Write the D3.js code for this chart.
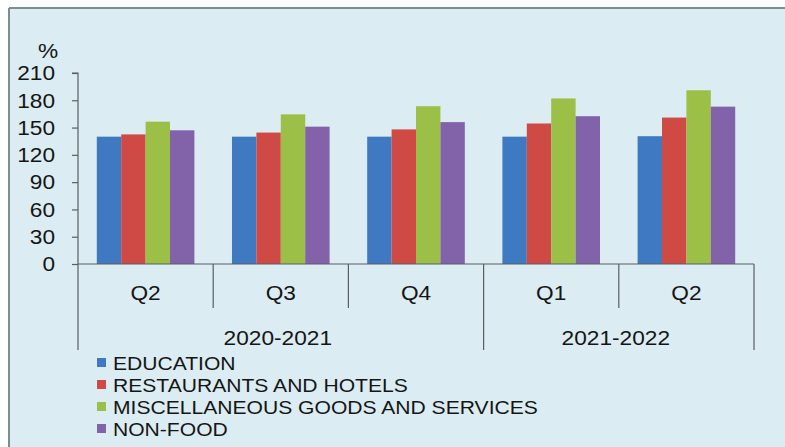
<!DOCTYPE html>
<html>
<head>
<meta charset="utf-8">
<script src="https://cdn.jsdelivr.net/npm/d3@7/dist/d3.min.js"></script>
<style>
  html, body { margin: 0; padding: 0; background: #ffffff; }
  svg { display: block; }
  text { font-family: "Liberation Sans", Arial, sans-serif; fill: #151515; }
</style>
</head>
<body>
<svg id="chart" width="785" height="447"></svg>
<script>
// Price index by quarter, %
const quarters = ["Q2", "Q3", "Q4", "Q1", "Q2"];
const fiscalYears = [
  { label: "2020-2021", from: 0, to: 3 },
  { label: "2021-2022", from: 3, to: 5 }
];
const seriesNames = ["EDUCATION", "RESTAURANTS AND HOTELS", "MISCELLANEOUS GOODS AND SERVICES", "NON-FOOD"];
const education   = [140.0, 140.0, 140.0, 140.0, 140.5];
const restaurants = [142.5, 144.5, 148.0, 154.5, 161.0];
const misc        = [156.5, 164.5, 173.5, 182.0, 191.0];
const nonFood     = [147.0, 151.0, 156.0, 162.5, 173.0];
const yTicks = [0, 30, 60, 90, 120, 150, 180, 210];

const seriesValues = [education, restaurants, misc, nonFood];
const colors = ["#3f79c1", "#cf4a45", "#9cbf48", "#8263aa"];

const svg = d3.select("#chart");
const W = 785, H = 447;
const plotLeft = 78, plotRight = 754, plotTop = 73, plotBottom = 264;
const stretch = 1.08;

// panel background and frame
svg.append("rect").attr("x", 9).attr("y", 8).attr("width", W - 9).attr("height", H - 8)
  .attr("fill", "#dbecf2");
svg.append("line").attr("x1", 9).attr("x2", W).attr("y1", 8).attr("y2", 8)
  .attr("stroke", "#7d8c92").attr("stroke-width", 2);
svg.append("line").attr("x1", 9).attr("x2", 9).attr("y1", 8).attr("y2", H)
  .attr("stroke", "#7d8c92").attr("stroke-width", 2);

const idx = d3.range(quarters.length);
const x0 = d3.scaleBand().domain(idx).range([plotLeft, plotRight]).paddingInner(0.278).paddingOuter(0.139);
const x1 = d3.scaleBand().domain(d3.range(seriesNames.length)).range([0, x0.bandwidth()]);
const y = d3.scaleLinear().domain([0, 210]).range([plotBottom, plotTop]);

// bars
const groups = svg.append("g").selectAll("g").data(idx).join("g")
  .attr("transform", i => `translate(${x0(i)},0)`);
groups.selectAll("rect")
  .data(i => seriesValues.map((vals, s) => ({ s, v: vals[i] })))
  .join("rect")
  .attr("x", d => x1(d.s))
  .attr("width", x1.bandwidth())
  .attr("y", d => y(d.v))
  .attr("height", d => y(0) - y(d.v))
  .attr("fill", d => colors[d.s]);

// y axis
const axisStroke = "#5a5f62";
const yAxis = svg.append("g").attr("transform", `translate(${plotLeft},0)`)
  .call(d3.axisLeft(y).tickValues(yTicks).tickSize(6).tickFormat(""));
yAxis.selectAll("path, line").attr("stroke", axisStroke).attr("stroke-width", 1.2);
yAxis.select(".domain").attr("d", `M-6,${y(210)}H0V${y(0)}`);

svg.append("g").selectAll("text").data(yTicks).join("text")
  .attr("transform", d => `translate(55,${y(d)}) scale(${stretch},1)`)
  .attr("dy", "0.35em")
  .attr("text-anchor", "end")
  .attr("font-size", 21)
  .text(d => d);

svg.append("text")
  .attr("transform", `translate(48,58) scale(${stretch},1)`)
  .attr("text-anchor", "middle")
  .attr("font-size", 21)
  .text("%");

// x axis: baseline, quarter and year separators
svg.append("line").attr("x1", plotLeft).attr("x2", plotRight).attr("y1", plotBottom).attr("y2", plotBottom)
  .attr("stroke", axisStroke).attr("stroke-width", 1.2);

const step = x0.step();
const edge = i => plotLeft + i * step;
const yearEdges = new Set([0, ...fiscalYears.map(f => f.to)]);
svg.append("g").selectAll("line").data(d3.range(quarters.length + 1)).join("line")
  .attr("x1", edge).attr("x2", edge)
  .attr("y1", plotBottom)
  .attr("y2", i => yearEdges.has(i) ? 350 : 308)
  .attr("stroke", axisStroke).attr("stroke-width", 1.2);

svg.append("g").selectAll("text").data(idx).join("text")
  .attr("transform", i => `translate(${x0(i) + x0.bandwidth() / 2},300) scale(${stretch},1)`)
  .attr("text-anchor", "middle")
  .attr("font-size", 21)
  .text(i => quarters[i]);

svg.append("g").selectAll("text").data(fiscalYears).join("text")
  .attr("transform", f => `translate(${(edge(f.from) + edge(f.to)) / 2 - 3},345) scale(${stretch},1)`)
  .attr("text-anchor", "middle")
  .attr("font-size", 21)
  .text(f => f.label);

// legend
const legend = svg.append("g").selectAll("g").data(seriesNames).join("g")
  .attr("transform", (d, i) => `translate(97,${370 + i * 22})`);
legend.append("rect")
  .attr("x", 0).attr("y", -12).attr("width", 9).attr("height", 9)
  .attr("fill", (d, i) => colors[i]);
legend.append("text")
  .attr("transform", "translate(16,0) scale(1.14,1)")
  .attr("font-size", 18.5)
  .text(d => d);
</script>
</body>
</html>
